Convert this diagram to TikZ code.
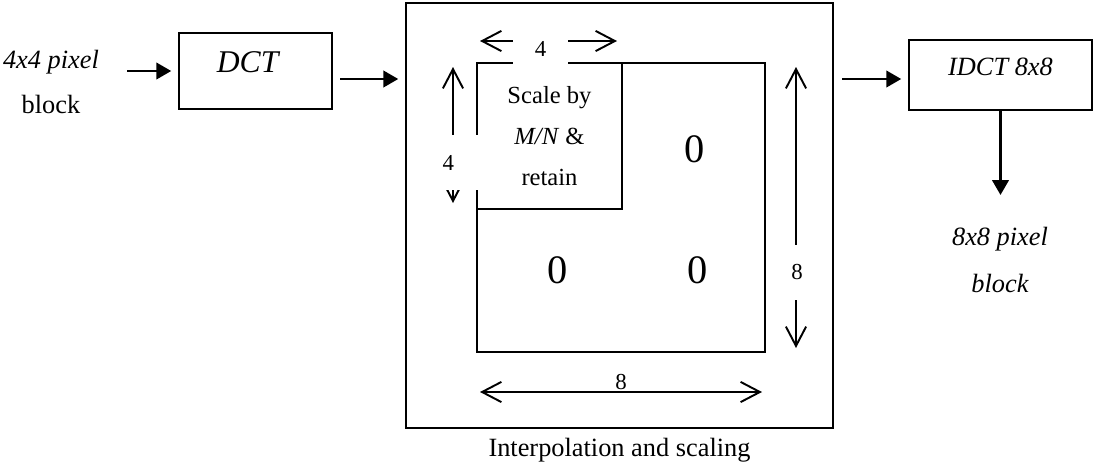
\documentclass[tikz,border=0pt]{standalone}
\usepackage{fontspec}
\setmainfont{Liberation Serif}
\usepackage{tikz}
\usetikzlibrary{arrows.meta}
\tikzset{
block/.style = {draw, line width=0.9pt, font=\fontsize{15}{18}\selectfont\itshape},
frame/.style = {draw, line width=0.9pt, inner sep=0pt},
input/.style = {coordinate},
output/.style= {coordinate},
flow/.style  = {line width=1.2pt, shorten >=4pt, -{Triangle[length=8.5pt,width=9.5pt]}},
dim/.style   = {line width=1.1pt,
                {Straight Barb[length=11pt,width=11.5pt]}-{Straight Barb[length=11pt,width=11.5pt]}},
dimlab/.style= {font=\fontsize{13}{15}\selectfont, inner sep=1pt},
mask/.style  = {dimlab, fill=white},
zero/.style  = {font=\fontsize{23}{27}\selectfont},
txt/.style   = {align=center, font=\fontsize{15}{26}\selectfont}
}

\begin{document}
\begin{tikzpicture}[x=0.02cm, y=-0.02cm, node distance=2cm]
    \useasboundingbox (0,0) rectangle (1093,467);

    \node [txt, name=inblk] (inblk) at (51,82) {\textit{4x4 pixel}\\block};
    \node [block, name=dct, minimum width=3.06cm, minimum height=1.52cm,
        font=\fontsize{18}{21}\selectfont\itshape, text height=12pt, text depth=10pt]
        (dct) at (255.5,71) {DCT\hspace*{9pt}};
    \node [input, name=intail, left of=dct, node distance=2.57cm] (intail) {};
    \draw [flow] (intail) -- (dct);

    % interpolation and scaling block
    \node [frame, name=interp, minimum width=8.54cm, minimum height=8.5cm] (interp) at (619.5,215.5) {};
    \node [txt, name=cap, below of=interp, node distance=4.7cm] (cap) {Interpolation and scaling};
    \node [output, name=dctout] (dctout) at (340,79) {};
    \draw [flow] (dctout) -- (dctout -| interp.west);

    \node [frame, name=grid, minimum width=5.76cm, minimum height=5.78cm] (grid) at (621,207.5) {};
    \node [frame, name=scl, minimum width=2.9cm, minimum height=2.92cm, align=center,
        font=\fontsize{14}{23.5}\selectfont] (scl) at (549.5,136) {Scale by\\\textit{M/N} \&\\retain};
    \node [zero, name=z12] (z12) at (695,149.5) {0};
    \node [zero, name=z21] (z21) at (558,270) {0};
    \node [zero, name=z22] (z22) at (698,270) {0};

    % dimensions
    \node [input, name=t4l] (t4l) at (480,41) {};
    \node [input, name=t4r] (t4r) at (617,41) {};
    \draw [dim] (t4l) -- (t4r);
    \node [mask, name=t4, minimum width=1.1cm, minimum height=0.64cm] (t4) at (540.5,49) {4};

    \node [input, name=l4t] (l4t) at (453,67) {};
    \node [input, name=l4b] (l4b) at (453,203) {};
    \draw [dim] (l4t) -- (l4b);
    \node [mask, name=l4, anchor=west, inner xsep=1.9pt, text width=19pt, align=left,
        minimum height=1.1cm] (l4) at (439,162.5) {4};

    \node [input, name=r8t] (r8t) at (796,67) {};
    \node [input, name=r8b] (r8b) at (796,348) {};
    \draw [dim] (r8t) -- (r8b);
    \node [mask, name=r8, minimum width=0.62cm, minimum height=1.1cm] (r8) at (797,272.5) {8};

    \node [input, name=b8l] (b8l) at (480,392) {};
    \node [input, name=b8r] (b8r) at (762,392) {};
    \draw [dim] (b8l) -- node [dimlab, above] {8} (b8r);

    % output side
    \node [block, name=idct, minimum width=3.66cm, minimum height=1.4cm,
        text height=10pt, text depth=10pt] (idct) at (1000.5,75) {IDCT 8x8};
    \node [input, name=intout] (intout) at (842,79) {};
    \draw [flow] (intout) -- (intout -| idct.west);

    \node [output, name=outtip, below of=idct, node distance=2.54cm] (outtip) {};
    \draw [flow] (idct) -- (outtip);
    \node [txt, name=outblk, font=\fontsize{15}{27}\selectfont\itshape] (outblk) at (1000,260)
    {8x8 pixel\\block};

\end{tikzpicture}
\end{document}
